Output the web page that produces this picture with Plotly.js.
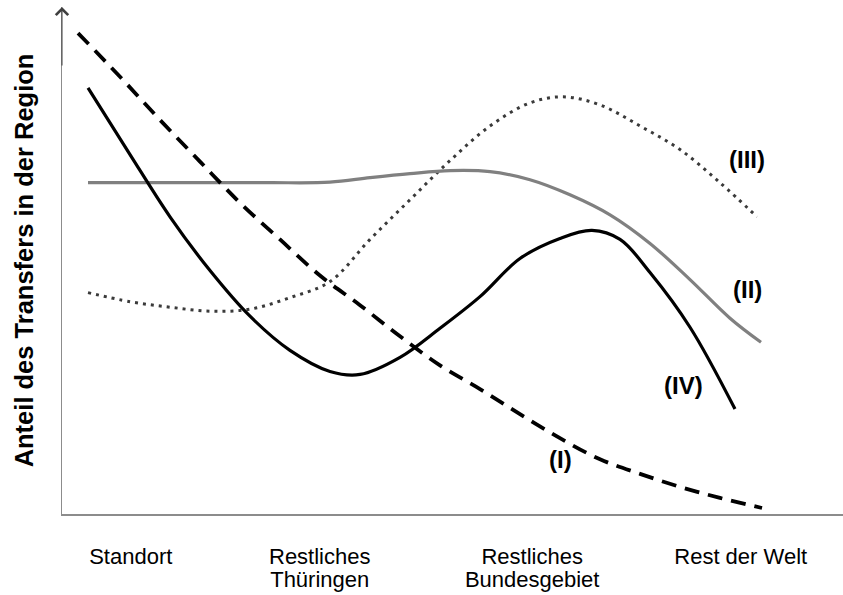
<!DOCTYPE html>
<html>
<head>
<meta charset="utf-8">
<script src="https://cdn.plot.ly/plotly-3.0.1.min.js"></script>
<style>html,body{margin:0;padding:0;background:#fff;}#chart{width:843px;height:595px;}</style>
</head>
<body>
<div id="chart"></div>
<script>
// Category tick positions (schematic distance scale 0..100)
const categoryPos = [8.8, 33.0, 60.2, 86.9];
const categoryLine1 = ["Standort", "Restliches", "Restliches", "Rest der Welt"];
const categoryLine2 = ["", "Thüringen", "Bundesgebiet", ""];

// Curve (I) – dashed black
const curveI_x = [2.05, 7.43, 12.55, 17.67, 22.79, 27.91, 33.03, 38.16, 43.28, 48.40, 53.52, 58.64, 63.76, 68.89, 74.01, 79.13, 84.25, 89.63];
const curveI_y = [95.8, 87.1, 78.5, 70.2, 62.0, 54.7, 47.5, 41.6, 35.4, 29.6, 24.9, 19.9, 15.1, 10.9, 8.0, 5.4, 3.2, 1.2];

// Curve (II) – grey
const curveII_x = [3.33, 11.27, 18.95, 26.63, 34.31, 39.44, 44.56, 49.68, 54.80, 59.92, 65.04, 70.17, 75.29, 80.41, 85.53, 89.50];
const curveII_y = [66.0, 66.0, 66.0, 66.0, 66.1, 67.0, 67.8, 68.4, 68.2, 66.6, 63.6, 59.6, 53.9, 46.7, 39.0, 34.2];

// Curve (III) – dotted
const curveIII_x = [3.33, 8.71, 13.83, 18.95, 24.07, 29.19, 34.31, 39.44, 44.56, 49.68, 54.80, 59.92, 64.15, 68.89, 74.01, 79.13, 84.25, 88.99];
const curveIII_y = [44.1, 42.3, 41.2, 40.4, 40.8, 43.1, 46.3, 54.7, 62.6, 70.4, 77.3, 81.9, 83.1, 81.5, 77.3, 72.6, 66.0, 59.2];

// Curve (IV) – solid black
const curveIV_x = [3.33, 8.71, 13.83, 18.95, 24.07, 29.19, 34.31, 38.16, 43.28, 48.40, 53.52, 58.64, 63.76, 67.86, 71.45, 75.29, 80.41, 86.17];
const curveIV_y = [84.9, 71.6, 59.2, 48.5, 39.4, 32.6, 28.4, 27.8, 31.2, 37.0, 43.3, 50.9, 54.9, 56.5, 54.7, 48.1, 37.2, 20.9];

// Curve labels
const labelText = ["(I)", "(II)", "(III)", "(IV)"];
const labelX = [63.8, 87.8, 87.7, 79.6];
const labelY = [10.9, 44.7, 70.6, 25.6];

const FONT = '"Liberation Sans", Arial, sans-serif';

const traces = [
  {x: curveIII_x, y: curveIII_y, mode: 'lines', line: {color: '#3a3a3a', width: 3, dash: '3px,5px', shape: 'spline', smoothing: 1}},
  {x: curveII_x, y: curveII_y, mode: 'lines', line: {color: '#808080', width: 3.2, shape: 'spline', smoothing: 1}},
  {x: curveI_x, y: curveI_y, mode: 'lines', line: {color: '#000000', width: 3.8, dash: '15px,9px', shape: 'spline', smoothing: 1}},
  {x: curveIV_x, y: curveIV_y, mode: 'lines', line: {color: '#000000', width: 3.2, shape: 'spline', smoothing: 1}},
  {x: categoryPos, y: [null, null, null, null], xaxis: 'x2', mode: 'lines', showlegend: false}
];

const annotations = labelText.map((t, i) => ({
  x: labelX[i], y: labelY[i], xref: 'x', yref: 'y', text: '<b>' + t + '</b>',
  showarrow: false, font: {family: FONT, size: 24, color: '#000'}
}));
annotations.push({
  x: 0, y: 1, xref: 'paper', yref: 'paper', ax: 0, ay: 60, axref: 'pixel', ayref: 'pixel',
  showarrow: true, arrowhead: 4, arrowsize: 2.4, arrowwidth: 1, arrowcolor: '#404040', text: ''
});

const tickFont = {family: FONT, size: 22, color: '#000'};

const layout = {
  width: 843, height: 595,
  margin: {l: 62, r: 0, t: 7, b: 81},
  paper_bgcolor: '#fff', plot_bgcolor: '#fff',
  showlegend: false, hovermode: false,
  font: {family: FONT, color: '#000'},
  xaxis: {
    range: [0, 100], showgrid: false, zeroline: false,
    showline: true, linecolor: '#8c8c8c', linewidth: 1.5,
    tickmode: 'array', tickvals: categoryPos, ticktext: categoryLine1,
    ticks: '', ticklabelstandoff: 22, tickfont: tickFont
  },
  xaxis2: {
    range: [0, 100], overlaying: 'x', anchor: 'y', side: 'bottom',
    showgrid: false, zeroline: false, showline: false,
    tickmode: 'array', tickvals: categoryPos, ticktext: categoryLine2,
    ticks: '', ticklabelstandoff: 50, tickfont: tickFont
  },
  yaxis: {
    range: [0, 101], showgrid: false, zeroline: false,
    showline: true, linecolor: '#8c8c8c', linewidth: 1.5,
    showticklabels: false, ticks: '',
    title: {text: '<b>Anteil des Transfers in der Region</b>', font: {family: FONT, size: 25.5, color: '#000'}, standoff: 19}
  },
  annotations: annotations
};

Plotly.newPlot('chart', traces, layout, {displayModeBar: false, staticPlot: true});
</script>
</body>
</html>
